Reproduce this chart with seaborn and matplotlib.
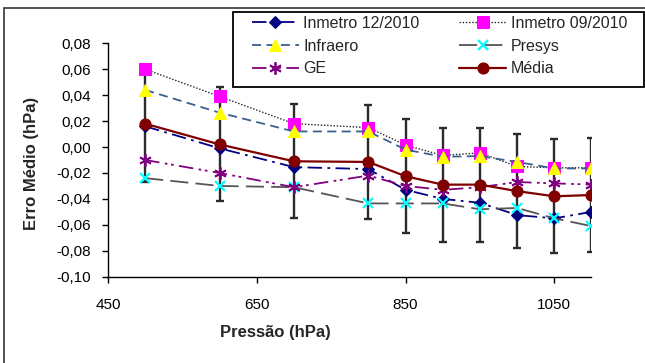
import matplotlib
matplotlib.use("Agg")
import matplotlib.pyplot as plt
from matplotlib.patches import Rectangle
import seaborn as sns
import pandas as pd

pressao = [500, 600, 700, 800, 850, 900, 950, 1000, 1050, 1100]
inmetro_12 = [0.016, -0.001, -0.0155, -0.017, -0.033, -0.040, -0.043, -0.0525, -0.055, -0.050]
inmetro_09 = [0.060, 0.039, 0.018, 0.015, 0.0015, -0.0065, -0.0045, -0.015, -0.016, -0.016]
infraero = [0.044, 0.0265, 0.012, 0.012, -0.002, -0.0075, -0.007, -0.0115, -0.0165, -0.0165]
presys = [-0.024, -0.030, -0.031, -0.0435, -0.0435, -0.0435, -0.048, -0.047, -0.055, -0.061]
ge = [-0.010, -0.020, -0.031, -0.022, -0.030, -0.033, -0.031, -0.027, -0.028, -0.029]
media = [0.018, 0.002, -0.011, -0.0115, -0.0225, -0.029, -0.029, -0.034, -0.038, -0.037]
erro = [0.045, 0.044, 0.044, 0.044, 0.044, 0.044, 0.044, 0.044, 0.044, 0.044]

series_names = ["Inmetro 12/2010", "Inmetro 09/2010", "Infraero", "Presys", "GE", "Média"]
y_ticks = [0.08, 0.06, 0.04, 0.02, 0.00, -0.02, -0.04, -0.06, -0.08, -0.10]
x_ticks = [450, 650, 850, 1050]

sns.set_theme(style="white")
plt.rcParams["font.family"] = ["Liberation Sans", "DejaVu Sans"]

W, H = 645, 363
fig = plt.figure(figsize=(W / 100, H / 100), dpi=100)
fig.patch.set_facecolor("white")
ax = fig.add_axes([108 / W, 1 - 276.7 / H, (591.5 - 108) / W, (276.7 - 43.3) / H])
ax.set_facecolor("white")

# error bars of the mean (behind everything)
ax.errorbar(pressao, media, yerr=erro, fmt="none", ecolor="#2b2b2b",
            elinewidth=1.7, capsize=3, capthick=1.7, zorder=1)

styles = {
    "Inmetro 12/2010": dict(color="#000080", marker="D", ms=6.5, mfc="#000080", mec="#000080",
                            linestyle=(0, (8, 3, 1.5, 3)), lw=1.3),
    "Inmetro 09/2010": dict(color="#222222", marker="s", ms=8, mfc="#FF00FF", mec="#FF00FF",
                            linestyle=(0, (1, 1.3)), lw=1.0),
    "Infraero": dict(color="#3A5F8A", marker="^", ms=8.5, mfc="#FFFF00", mec="#FFFF00",
                     linestyle=(0, (5, 3)), lw=1.3),
    "Presys": dict(color="#555555", marker="x", ms=7.5, mfc="#00FFFF", mec="#00FFFF", mew=1.6,
                   linestyle=(0, (10, 4)), lw=1.3),
    "GE": dict(color="#800080", marker=(6, 2, 0), ms=9, mfc="#800080", mec="#800080", mew=1.3,
               linestyle=(0, (8, 3, 1.5, 2, 1.5, 3)), lw=1.3),
    "Média": dict(color="#800000", marker="o", ms=8, mfc="#800000", mec="#800000",
                  linestyle="-", lw=1.6),
}
values = [inmetro_12, inmetro_09, infraero, presys, ge, media]

handles = {}
for i, (name, vals) in enumerate(zip(series_names, values)):
    df = pd.DataFrame({"Pressão": pressao, "Erro": vals})
    st = dict(styles[name])
    n_before = len(ax.lines)
    sns.lineplot(data=df, x="Pressão", y="Erro", ax=ax, sort=False,
                 color=st.pop("color"), zorder=2 + i, **st)
    handles[name] = ax.lines[n_before]

ax.set_xlim(450, 1100)
ax.set_ylim(-0.10, 0.08)
ax.set_xticks(x_ticks)
ax.set_xticklabels([str(v) for v in x_ticks])
ax.set_yticks(y_ticks)
ax.set_yticklabels([f"{v:.2f}".replace(".", ",").replace("-0,00", "0,00") for v in y_ticks])
ax.tick_params(axis="both", direction="out", length=4.5, width=1, color="black",
               labelsize=11, labelcolor="black", left=True, bottom=True)
ax.tick_params(axis="y", pad=8)
ax.tick_params(axis="x", pad=11)
for s in ["top", "right"]:
    ax.spines[s].set_visible(False)
for s in ["left", "bottom"]:
    ax.spines[s].set_color("black")
    ax.spines[s].set_linewidth(1.0)
ax.grid(False)

ax.set_xlabel("")
ax.set_ylabel("")
fig.text(275 / W, 1 - 332 / H, "Pressão (hPa)", fontsize=12, fontweight="bold",
         ha="center", va="center")
fig.text(32 / W, 1 - 163 / H, "Erro Médio (hPa)", fontsize=12, fontweight="bold",
         ha="center", va="center", rotation=90)

# legend (Excel order row-wise -> matplotlib column-wise)
order = ["Inmetro 12/2010", "Infraero", "GE", "Inmetro 09/2010", "Presys", "Média"]
leg = fig.legend([handles[n] for n in order], order, loc="upper left",
                 bbox_to_anchor=(251.7 / W, 1 - 16.0 / H), ncol=2, frameon=False,
                 fontsize=11.5, handlelength=2.94, handletextpad=0.28,
                 columnspacing=2.5, labelspacing=0.48, borderpad=0, borderaxespad=0)

fig.patches.append(Rectangle((232.7 / W, 1 - 87.3 / H), (643.5 - 232.7) / W, (87.3 - 11.7) / H,
                             transform=fig.transFigure, facecolor="white", edgecolor="black",
                             lw=1.3, zorder=5))
leg.set_zorder(6)

# chart area border
fig.patches.append(Rectangle((4 / W, -0.05), 1.2, 1 - 8.3 / H + 0.05,
                             transform=fig.transFigure, facecolor="none", edgecolor="#444444",
                             lw=1.3, zorder=0))

fig.savefig("out.png", dpi=100)
